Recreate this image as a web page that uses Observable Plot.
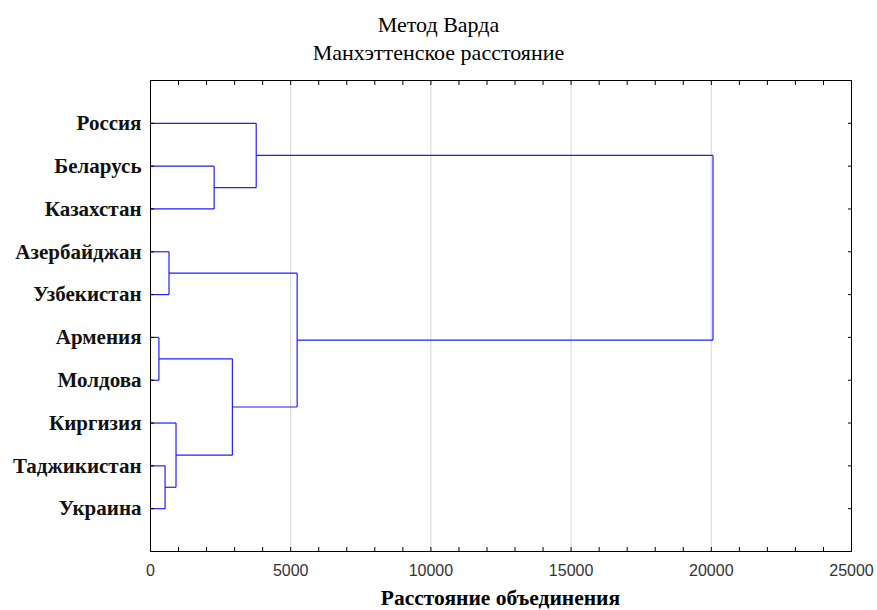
<!DOCTYPE html>
<html>
<head>
<meta charset="utf-8">
<script src="https://cdn.jsdelivr.net/npm/d3@7"></script>
<script src="https://cdn.jsdelivr.net/npm/@observablehq/plot@0.6"></script>
</head>
<body style="margin:0;padding:0;background:#fff">
<div id="wrap" style="position:relative;width:877px;height:610px;overflow:hidden">
  <div id="chart" style="position:absolute;left:0;top:0"></div>
  <div style="position:absolute;left:0;top:12px;width:877px;text-align:center;white-space:nowrap;font-family:'Liberation Serif';font-size:22px;color:#000">Метод Варда</div>
  <div style="position:absolute;left:0;top:40px;width:877px;text-align:center;white-space:nowrap;font-family:'Liberation Serif';font-size:22px;color:#000">Манхэттенское расстояние</div>
  <div style="position:absolute;left:150px;top:586px;width:701px;text-align:center;white-space:nowrap;font-family:'Liberation Serif';font-weight:bold;font-size:21.5px;color:#000">Расстояние объединения</div>
</div>
<script>
// Leaves in display order (top to bottom)
const leaves = ["Россия", "Беларусь", "Казахстан", "Азербайджан", "Узбекистан", "Армения", "Молдова", "Киргизия", "Таджикистан", "Украина"];
// Merges: left cluster id, right cluster id (0-9 leaves, 10+ earlier merges), linkage distance
const mergeLeft  = [5,   8,   3,   7,   1,    10,   0,    12,   16];
const mergeRight = [6,   9,   4,   11,  2,    13,   14,   15,   17];
const mergeDist  = [300, 520, 660, 910, 2270, 2920, 3770, 5230, 20060];
const majorTicks = [0, 5000, 10000, 15000, 20000, 25000];
const gridTicks = [5000, 10000, 15000, 20000];

// Build dendrogram segments from the data
const nodeY = leaves.map((_, i) => i + 1);
const nodeH = leaves.map(() => 0);
const segs = [];
mergeDist.forEach((h, k) => {
  const a = mergeLeft[k], b = mergeRight[k];
  segs.push({x1: nodeH[a], x2: h, y1: nodeY[a], y2: nodeY[a]});
  segs.push({x1: nodeH[b], x2: h, y1: nodeY[b], y2: nodeY[b]});
  segs.push({x1: h, x2: h, y1: nodeY[a], y2: nodeY[b]});
  nodeY.push((nodeY[a] + nodeY[b]) / 2);
  nodeH.push(h);
});
const minorTicks = d3.range(0, 25001, 1000);
const rows = leaves.map((_, i) => i + 1);

const chart = Plot.plot({
  width: 877,
  height: 610,
  marginLeft: 150,
  marginRight: 26,
  marginTop: 80,
  marginBottom: 59,
  style: {fontFamily: "Liberation Serif", background: "#fff"},
  x: {domain: [0, 25000]},
  y: {domain: [0, 11], reverse: true},
  marks: [
    Plot.ruleX(gridTicks, {stroke: "#d6d6d6"}),
    Plot.link(segs, {x1: "x1", y1: "y1", x2: "x2", y2: "y2", stroke: "#1f1fff", strokeWidth: 1.2}),
    Plot.axisX({anchor: "bottom", ticks: minorTicks, tickSize: -4, text: null, label: null}),
    Plot.axisX({anchor: "top", ticks: minorTicks, tickSize: -4, text: null, label: null}),
    Plot.axisY({anchor: "left", ticks: rows, tickSize: -4, text: null, label: null}),
    Plot.axisY({anchor: "right", ticks: rows, tickSize: -4, text: null, label: null}),
    Plot.axisX({anchor: "bottom", ticks: majorTicks, tickSize: 0, tickPadding: 13, tickFormat: d => String(d), label: null, fontFamily: "Liberation Sans", fontSize: 16, fill: "#333"}),
    Plot.axisY({anchor: "left", ticks: rows, tickSize: 0, tickPadding: 9, tickFormat: i => leaves[i - 1], label: null, fontFamily: "Liberation Serif", fontSize: 21, fontWeight: "bold", fill: "#111"}),
    Plot.frame({stroke: "#000"})
  ]
});
document.getElementById("chart").appendChild(chart);
</script>
</body>
</html>
